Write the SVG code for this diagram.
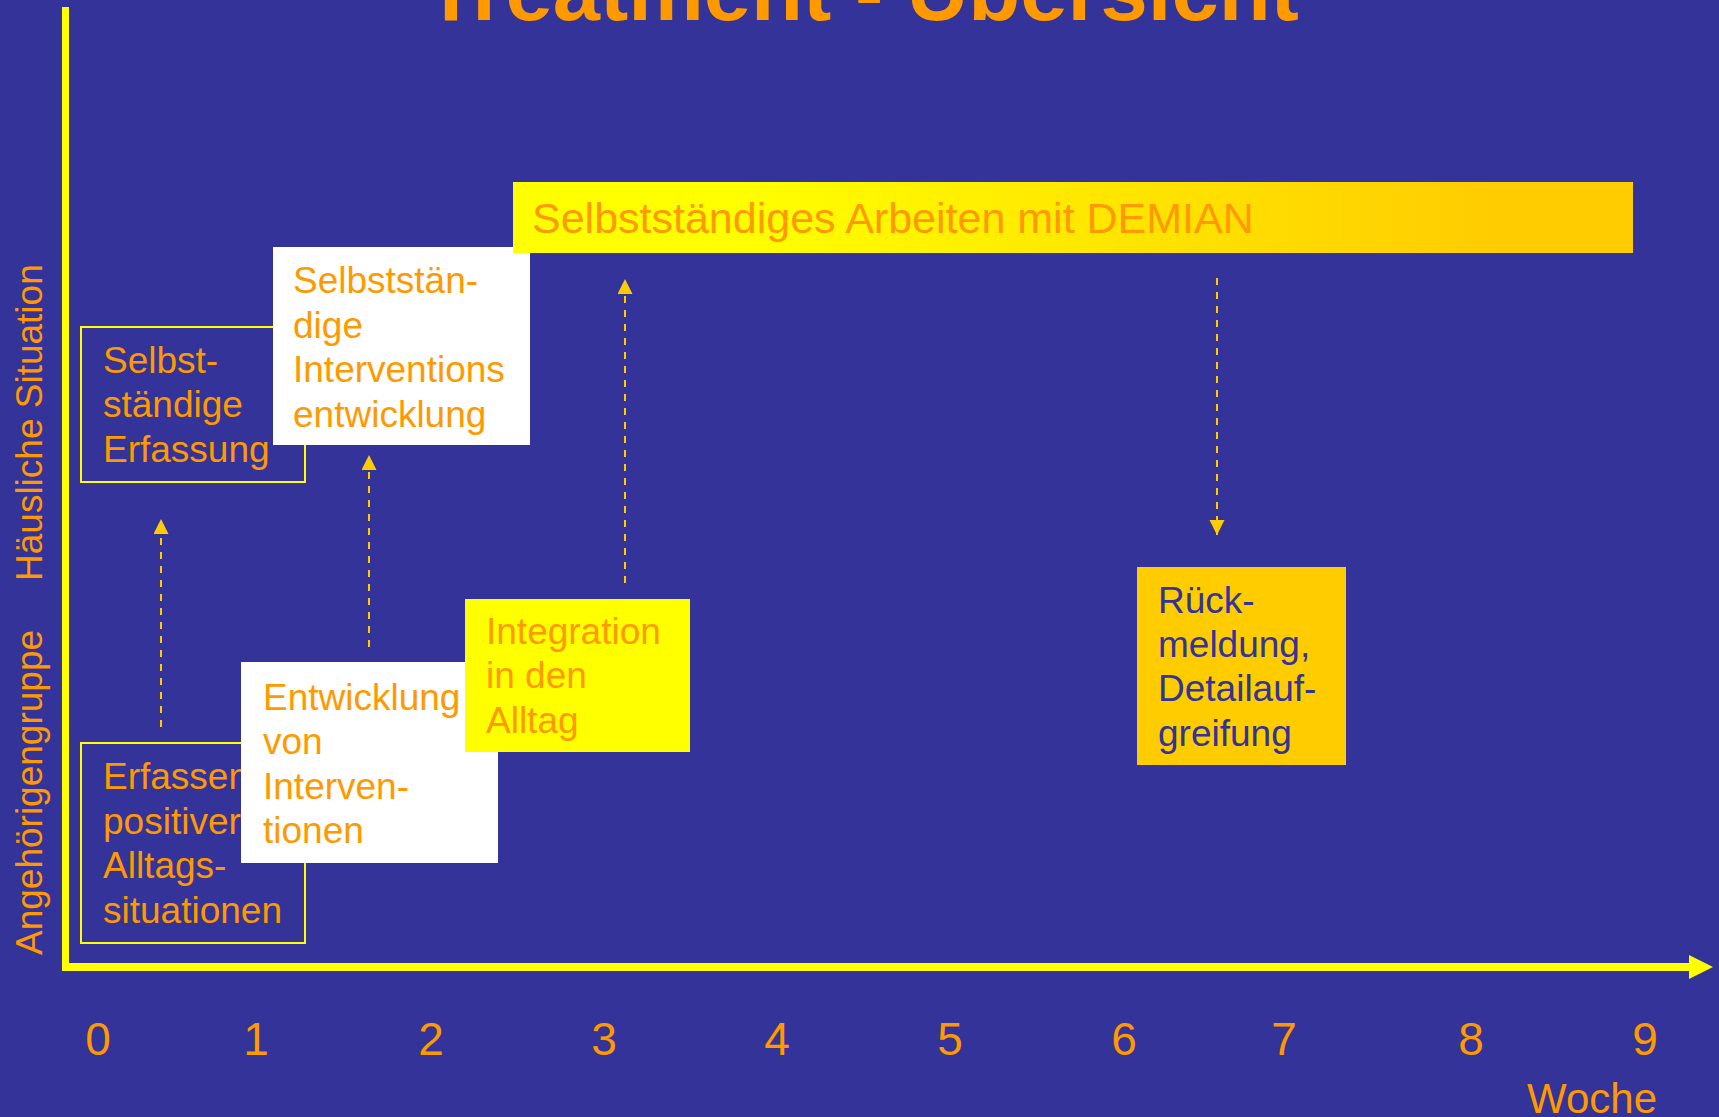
<svg xmlns="http://www.w3.org/2000/svg" width="1719" height="1117" viewBox="0 0 1719 1117">
<defs>
  <linearGradient id="barGrad" x1="0" y1="0" x2="1" y2="0">
    <stop offset="0.2" stop-color="#FFFF00"/>
    <stop offset="0.88" stop-color="#FFCC00"/>
  </linearGradient>
  <marker id="head" markerUnits="userSpaceOnUse" markerWidth="16" markerHeight="16" refX="15" refY="7.5" orient="auto">
    <path d="M0,0 L15,7.5 L0,15 Z" fill="#FFCC00"/>
  </marker>
  <style>
    .t { font-family: "Liberation Sans", Arial, sans-serif; fill: #FF9900; }
    .box { font-size: 37px; }
    .dark { fill: #333399; }
    .frame { fill: none; stroke: #FFFF00; stroke-width: 2; }
    .conn { fill: none; stroke: #FFCC00; stroke-width: 2; stroke-dasharray: 7 7; marker-end: url(#head); }
    .num { font-size: 46px; text-anchor: middle; }
  </style>
</defs>
<rect x="0" y="0" width="1719" height="1117" fill="#333399"/>

<text class="t" x="862" y="20" font-size="85" font-weight="bold" text-anchor="middle">Treatment - Übersicht</text>

<g id="axes">
  <rect x="62" y="7" width="7" height="964" fill="#FFFF00"/>
  <rect x="65" y="963" width="1626" height="8" fill="#FFFF00"/>
  <path d="M1689,955 L1713,967 L1689,979 Z" fill="#FFFF00"/>
  <text class="t" font-size="37" transform="translate(42,581) rotate(-90)">Häusliche Situation</text>
  <text class="t" font-size="37" transform="translate(42,955) rotate(-90)">Angehörigengruppe</text>
</g>

<g id="ticks">
  <text class="t num" x="98" y="1055">0</text>
  <text class="t num" x="256" y="1055">1</text>
  <text class="t num" x="431" y="1055">2</text>
  <text class="t num" x="604" y="1055">3</text>
  <text class="t num" x="777" y="1055">4</text>
  <text class="t num" x="950" y="1055">5</text>
  <text class="t num" x="1124" y="1055">6</text>
  <text class="t num" x="1284" y="1055">7</text>
  <text class="t num" x="1471" y="1055">8</text>
  <text class="t num" x="1645" y="1055">9</text>
  <text class="t" x="1657" y="1113" font-size="42" text-anchor="end">Woche</text>
</g>

<g id="node-selbst-erfassung">
  <rect class="frame" x="81" y="327" width="224" height="155"/>
  <text class="t box" x="103" y="373">Selbst-</text>
  <text class="t box" x="103" y="417">ständige</text>
  <text class="t box" x="103" y="462">Erfassung</text>
</g>

<g id="node-selbst-interventionsentwicklung">
  <rect x="273" y="247" width="257" height="198" fill="#FFFFFF"/>
  <text class="t box" x="293" y="293">Selbststän-</text>
  <text class="t box" x="293" y="338">dige</text>
  <text class="t box" x="293" y="382">Interventions</text>
  <text class="t box" x="293" y="427">entwicklung</text>
</g>

<g id="node-demian">
  <rect x="513" y="182" width="1120" height="71" fill="url(#barGrad)"/>
  <text class="t" x="532" y="233" font-size="43">Selbstständiges Arbeiten mit DEMIAN</text>
</g>

<g id="node-erfassen">
  <rect class="frame" x="81" y="743" width="224" height="200"/>
  <text class="t box" x="103" y="789">Erfassen</text>
  <text class="t box" x="103" y="834">positiver</text>
  <text class="t box" x="103" y="878">Alltags-</text>
  <text class="t box" x="103" y="923">situationen</text>
</g>

<g id="node-entwicklung">
  <rect x="241" y="662" width="257" height="201" fill="#FFFFFF"/>
  <text class="t box" x="263" y="710">Entwicklung</text>
  <text class="t box" x="263" y="754">von</text>
  <text class="t box" x="263" y="799">Interven-</text>
  <text class="t box" x="263" y="843">tionen</text>
</g>

<g id="node-integration">
  <rect x="465" y="599" width="225" height="153" fill="#FFFF00"/>
  <text class="t box" x="486" y="644">Integration</text>
  <text class="t box" x="486" y="688">in den</text>
  <text class="t box" x="486" y="733">Alltag</text>
</g>

<g id="node-rueckmeldung">
  <rect x="1137" y="567" width="209" height="198" fill="#FFCC00"/>
  <text class="t box dark" x="1158" y="613">Rück-</text>
  <text class="t box dark" x="1158" y="657">meldung,</text>
  <text class="t box dark" x="1158" y="701">Detailauf-</text>
  <text class="t box dark" x="1158" y="746">greifung</text>
</g>

<g id="connectors">
  <path class="conn" d="M161,727 L161,519"/>
  <path class="conn" d="M369,647 L369,455"/>
  <path class="conn" d="M625,583 L625,279"/>
  <path class="conn" d="M1217,278 L1217,535"/>
</g>
</svg>
